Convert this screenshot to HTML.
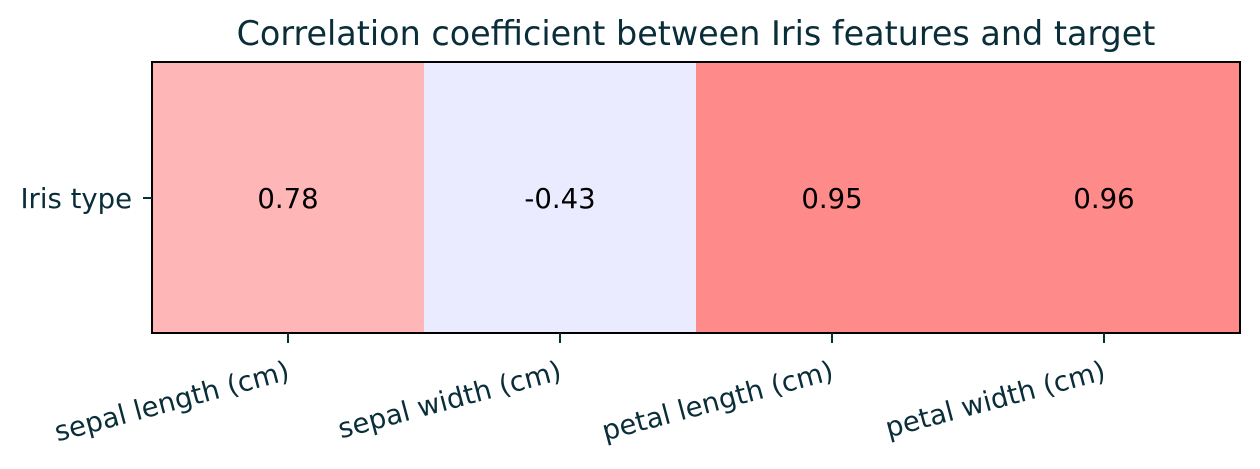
<!DOCTYPE html>
<html><head><meta charset="utf-8"><style>html,body{margin:0;padding:0;background:#fff}</style></head>
<body>
<svg width="1260" height="464" xmlns="http://www.w3.org/2000/svg" font-family="DejaVu Sans, Liberation Sans, sans-serif">
<text x="696" y="45" font-size="33.4" fill="#0a2d3a" text-anchor="middle">Correlation coefficient between Iris features and target</text>
<rect x="152" y="62" width="272" height="271" fill="#ffb6b6"/>
<rect x="424" y="62" width="272" height="271" fill="#ebebff"/>
<rect x="696" y="62" width="544" height="271" fill="#ff8a8a"/>
<rect x="152" y="62" width="1088" height="271" fill="none" stroke="#000" stroke-width="2"/>
<g font-size="27.5" fill="#000" text-anchor="middle">
<text x="288" y="208">0.78</text>
<text x="560" y="208">-0.43</text>
<text x="832" y="208">0.95</text>
<text x="1104" y="208">0.96</text>
</g>
<g stroke="#0a2d3a" stroke-width="2">
<line x1="143" y1="198" x2="152" y2="198"/>
<line x1="288" y1="333" x2="288" y2="343"/>
<line x1="560" y1="333" x2="560" y2="343"/>
<line x1="832" y1="333" x2="832" y2="343"/>
<line x1="1104" y1="333" x2="1104" y2="343"/>
</g>
<g font-size="27.5" fill="#0a2d3a">
<text x="132" y="208" text-anchor="end">Iris type</text>
<text x="291" y="379" text-anchor="end" transform="rotate(-15 291 379)">sepal length (cm)</text>
<text x="563" y="379" text-anchor="end" transform="rotate(-15 563 379)">sepal width (cm)</text>
<text x="835" y="379" text-anchor="end" transform="rotate(-15 835 379)">petal length (cm)</text>
<text x="1107" y="379" text-anchor="end" transform="rotate(-15 1107 379)">petal width (cm)</text>
</g>
</svg>
</body></html>
